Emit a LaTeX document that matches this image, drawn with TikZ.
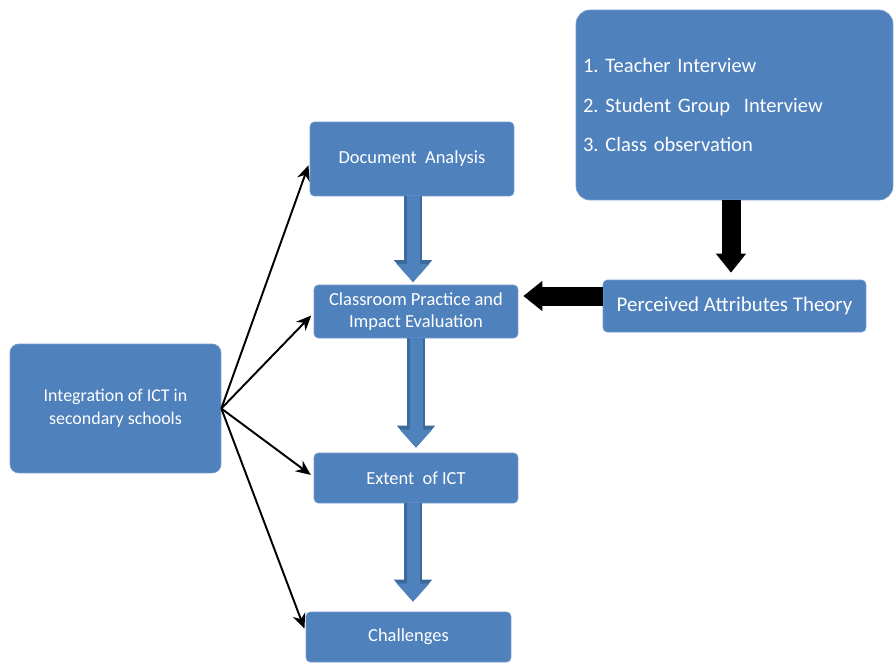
\documentclass[tikz,border=0pt]{standalone}
\usepackage{fontspec}
\setmainfont{Carlito}
\usetikzlibrary{arrows.meta, positioning}
\definecolor{boxblue}{HTML}{4F81BD}
\definecolor{boxedge}{HTML}{3B6A9C}
\frenchspacing

\begin{document}
\begin{tikzpicture}[
    x=0.02cm, y=-0.02cm,
    box/.style={draw=boxblue!80!white, fill=boxblue, text=white, rounded corners=2.5pt,
        minimum width=4.08cm, align=center, inner sep=2pt,
        font=\fontsize{10.5}{12.5}\selectfont},
    every edge/.style={draw, line width=1.1pt, -{Stealth[length=3mm, width=2.6mm]}, shorten >=2pt},
    bluearrow/.style={preaction={draw=boxedge, line width=0.36cm,
        -{Triangle[width=0.74cm, length=0.44cm]}},
        draw=boxblue, line width=0.26cm, shorten >=0.05cm,
        -{Triangle[width=0.62cm, length=0.36cm]}},
    blackarrow/.style={draw=black, line width=0.38cm, -{Triangle[width=0.58cm, length=0.38cm]}},
]
\useasboundingbox (0,0) rectangle (896,663);

\node[box, minimum width=6.34cm, minimum height=3.8cm, rounded corners=8pt,
    text width=6.06cm, align=left, inner sep=0.14cm,
    font=\fontsize{11.7}{22.7}\selectfont] (methods) at (734.5,105)
    {1. Teacher Interview\\2. Student Group~~Interview\\3. Class observation};
\node[box, minimum height=1.48cm] (docs) at (412,159) {Document~ Analysis};
\node[box, minimum height=1.06cm] (practice) at (416,311.5) {Classroom Practice and\\Impact Evaluation};
\node[box, minimum width=5.26cm, minimum height=1.04cm, font=\fontsize{11.9}{14}\selectfont]
    (theory) at (734.5,306) {Perceived Attributes Theory};
\node[box, minimum width=4.22cm, minimum height=2.58cm, rounded corners=5pt,
    font=\fontsize{10.2}{13}\selectfont] (ict) at (115.5,408.5) {Integration of ICT in\\secondary schools};
\node[box, minimum height=1cm] (extent) at (416,478) {Extent~ of ICT};
\node[box, minimum width=4.1cm, minimum height=1cm] (challenges) at (408.5,637) {Challenges};

% main flow
\draw[bluearrow] (docs.south -| 413,0) -- (practice.north -| 413,0);
\draw[bluearrow, shorten >=0.1cm] (practice.south -| 416,0) -- (extent.north -| 416,0);
\draw[bluearrow, shorten >=0.2cm] (extent.south -| 413,0) -- (challenges.north -| 413,0);

% theory
\draw[blackarrow, shorten >=0.14cm] (methods.south -| 731,0) -- (theory.north -| 731,0);
\draw[blackarrow, shorten >=0.1cm] (theory.west |- 0,296) -- (practice.east |- 0,296);

% branches
\draw (ict.east) edge (docs.west |- 0,162);
\draw (ict.east) edge (practice.west |- 0,313);
\draw (ict.east) edge (extent.west |- 0,477);
\draw (ict.east) edge (challenges.west |- 0,632);
\end{tikzpicture}
\end{document}
